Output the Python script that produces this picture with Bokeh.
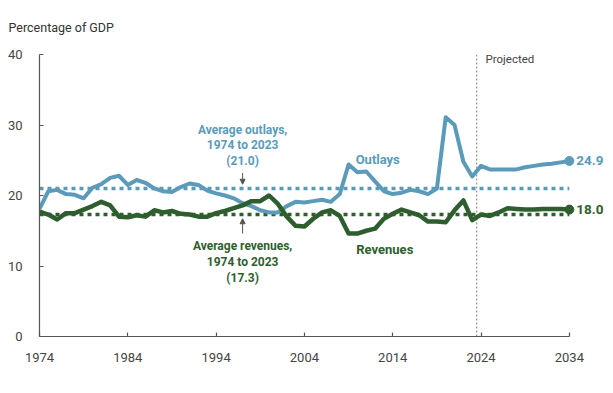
from bokeh.plotting import figure
from bokeh.models import Range1d, Label, Arrow, NormalHead
from bokeh.embed import file_html
from bokeh.resources import INLINE

# ---------------- data ----------------
years = list(range(1974, 2035))
outlays = [18.1, 20.6, 20.8, 20.2, 20.1, 19.6, 21.1, 21.6, 22.5, 22.8,
           21.5, 22.2, 21.8, 21.0, 20.6, 20.5, 21.2, 21.7, 21.5, 20.7,
           20.3, 20.0, 19.6, 18.9, 18.5, 17.9, 17.6, 17.6, 18.5, 19.1,
           19.0, 19.2, 19.4, 19.1, 20.2, 24.4, 23.3, 23.4, 22.0, 20.6,
           20.2, 20.4, 20.8, 20.6, 20.2, 21.0, 31.1, 30.0, 24.8, 22.7,
           24.2, 23.7, 23.7, 23.7, 23.7, 24.0, 24.2, 24.4, 24.5, 24.7, 24.9]
revenues = [17.7, 17.3, 16.6, 17.5, 17.5, 18.0, 18.5, 19.1, 18.6, 17.0,
            16.9, 17.2, 17.0, 17.9, 17.6, 17.8, 17.4, 17.3, 17.0, 17.0,
            17.5, 17.8, 18.2, 18.6, 19.2, 19.2, 20.0, 18.8, 17.0, 15.7,
            15.6, 16.7, 17.6, 17.9, 17.1, 14.6, 14.6, 15.0, 15.3, 16.7,
            17.4, 18.0, 17.6, 17.2, 16.3, 16.3, 16.2, 17.9, 19.3, 16.5,
            17.3, 17.1, 17.6, 18.2, 18.1, 18.0, 18.0, 18.1, 18.1, 18.1, 18.0]
avg_outlays = 21.0
avg_revenues = 17.3
projection_start = 2023.5
x_ticks = [1974, 1984, 1994, 2004, 2014, 2024, 2034]
y_ticks = [0, 10, 20, 30, 40]
outlay_note = ["Average outlays,", "1974 to 2023", "(21.0)"]
revenue_note = ["Average revenues,", "1974 to 2023", "(17.3)"]

BLUE = "#5B9BB9"
GREEN = "#2E5E2E"
AXIS = "#555555"
TXT = "#444444"
FONT = "Roboto"

p = figure(width=613, height=393, output_backend="svg", toolbar_location=None,
           x_range=Range1d(1974, 2039.0), y_range=Range1d(0, 40),
           min_border_left=39, min_border_right=0, min_border_top=54,
           min_border_bottom=57)
p.outline_line_color = None
p.grid.visible = False
p.background_fill_color = "white"
p.border_fill_color = "white"

p.title.text = "Percentage of GDP"
p.title.align = "left"
p.title.vertical_align = "top"
p.title.offset = -31
p.title.standoff = 35
p.title.text_font = FONT
p.title.text_font_size = "12.5px"
p.title.text_font_style = "normal"
p.title.text_color = "#333333"

for ax in (p.xaxis[0], p.yaxis[0]):
    ax.axis_line_color = AXIS
    ax.axis_line_width = 1.2
    ax.major_tick_line_color = AXIS
    ax.major_tick_line_width = 1.2
    ax.major_tick_in = 4
    ax.major_tick_out = 0
    ax.minor_tick_line_color = None
    ax.major_label_text_font = FONT
    ax.major_label_text_font_size = "13px"
    ax.major_label_text_color = TXT

p.xaxis.ticker = x_ticks
p.xaxis.bounds = (years[0], years[-1])
p.xaxis.major_label_standoff = 16
p.yaxis.ticker = y_ticks
p.yaxis.bounds = (y_ticks[0], y_ticks[-1])
p.yaxis.major_label_standoff = 17

# projection divider
p.line([projection_start, projection_start], [0, 40.3], line_color="#999999",
       line_width=1.3, line_dash="2 2")

# averages
p.line([years[0], years[-1]], [avg_outlays, avg_outlays], line_color=BLUE,
       line_width=3.5, line_dash="4 4")
p.line([years[0], years[-1]], [avg_revenues, avg_revenues], line_color=GREEN,
       line_width=3.5, line_dash="4 4")

# series
p.line(years, outlays, line_color=BLUE, line_width=4, line_join="round")
p.line(years, revenues, line_color=GREEN, line_width=4.5, line_join="round")
p.scatter([years[-1]], [outlays[-1]], size=9, color=BLUE)
p.scatter([years[-1]], [revenues[-1]], size=9, color=GREEN)

# end value labels
p.add_layout(Label(x=years[-1], y=outlays[-1], text=f"{outlays[-1]:.1f}", x_offset=7,
                   text_baseline="middle", text_font=FONT, text_font_style="bold",
                   text_font_size="13.5px", text_color=BLUE))
p.add_layout(Label(x=years[-1], y=revenues[-1], text=f"{revenues[-1]:.1f}", x_offset=7,
                   text_baseline="middle", text_font=FONT, text_font_style="bold",
                   text_font_size="13.5px", text_color=GREEN))

# series names
p.add_layout(Label(x=2012.3, y=25.05, text="Outlays", text_align="center",
                   text_baseline="middle", text_font=FONT, text_font_style="bold",
                   text_font_size="13px", text_color=BLUE))
p.add_layout(Label(x=2013.1, y=12.3, text="Revenues", text_align="center",
                   text_baseline="middle", text_font=FONT, text_font_style="bold",
                   text_font_size="13px", text_color=GREEN))

# Projected
p.add_layout(Label(x=2024.5, y=39.3, text="Projected", text_align="left",
                   text_baseline="middle", text_font=FONT,
                   text_font_size="11.5px", text_color=TXT))

# average notes
for txt, yy in zip(outlay_note, [29.32, 27.1, 24.9]):
    p.add_layout(Label(x=1997, y=yy, text=txt, text_align="center",
                       text_baseline="middle", text_font=FONT, text_font_style="bold",
                       text_font_size="12px", text_color=BLUE))
for txt, yy in zip(revenue_note, [12.81, 10.53, 8.26]):
    p.add_layout(Label(x=1997, y=yy, text=txt, text_align="center",
                       text_baseline="middle", text_font=FONT, text_font_style="bold",
                       text_font_size="12px", text_color=GREEN))

p.add_layout(Arrow(end=NormalHead(size=5, fill_color=AXIS, line_color=AXIS),
                   x_start=1997, y_start=23.2, x_end=1997, y_end=21.6,
                   line_color=AXIS, line_width=1))
p.add_layout(Arrow(end=NormalHead(size=5, fill_color=AXIS, line_color=AXIS),
                   x_start=1997, y_start=14.6, x_end=1997, y_end=16.7,
                   line_color=AXIS, line_width=1))

open("out.html", "w").write(file_html(p, INLINE))
